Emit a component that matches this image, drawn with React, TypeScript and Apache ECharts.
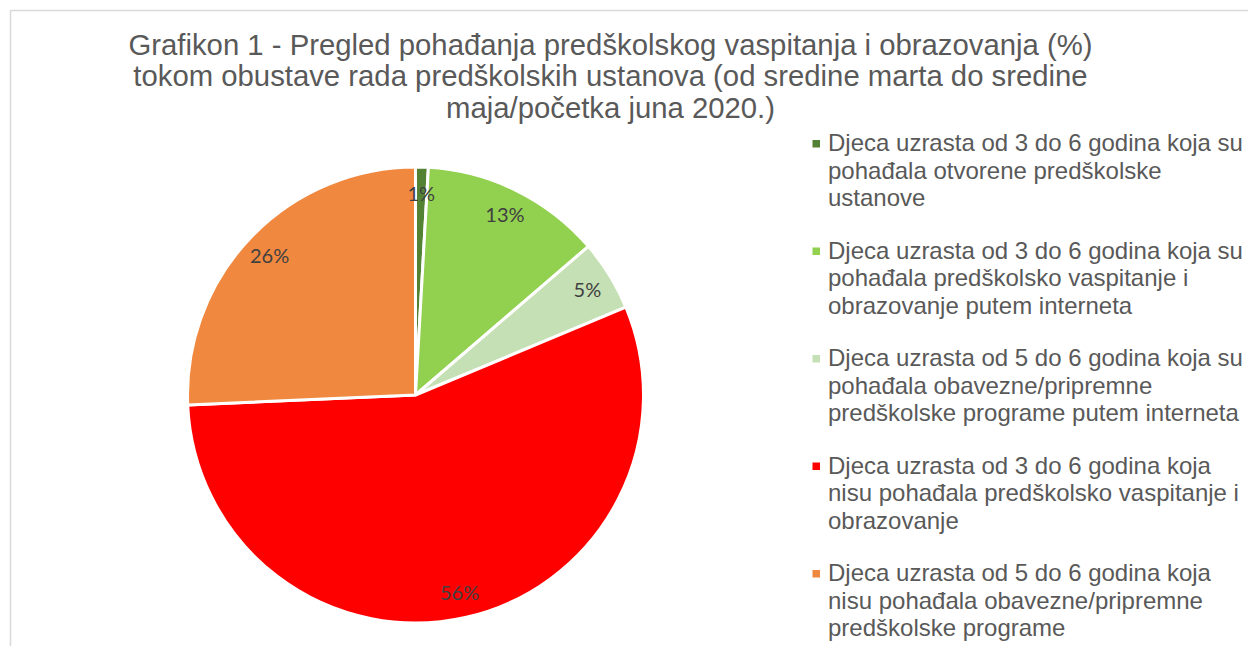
import React, { useEffect, useRef } from 'react';
import * as echarts from 'echarts';

const titleLines = [
  'Grafikon 1 - Pregled pohađanja predškolskog vaspitanja i obrazovanja (%)',
  'tokom obustave rada predškolskih ustanova (od sredine marta do sredine',
  'maja/početka juna 2020.)',
];

const categories = [
  'Djeca uzrasta od 3 do 6 godina koja su pohađala otvorene predškolske ustanove',
  'Djeca uzrasta od 3 do 6 godina koja su pohađala predškolsko vaspitanje i obrazovanje putem interneta',
  'Djeca uzrasta od 5 do 6 godina koja su pohađala obavezne/pripremne predškolske programe putem interneta',
  'Djeca uzrasta od 3 do 6 godina koja nisu pohađala predškolsko vaspitanje i obrazovanje',
  'Djeca uzrasta od 5 do 6 godina koja nisu pohađala obavezne/pripremne predškolske programe',
];

const legendLines = [
  ['Djeca uzrasta od 3 do 6 godina koja su', 'pohađala otvorene predškolske', 'ustanove'],
  ['Djeca uzrasta od 3 do 6 godina koja su', 'pohađala predškolsko vaspitanje i', 'obrazovanje putem interneta'],
  ['Djeca uzrasta od 5 do 6 godina koja su', 'pohađala obavezne/pripremne', 'predškolske programe putem interneta'],
  ['Djeca uzrasta od 3 do 6 godina koja', 'nisu pohađala predškolsko vaspitanje i', 'obrazovanje'],
  ['Djeca uzrasta od 5 do 6 godina koja', 'nisu pohađala obavezne/pripremne', 'predškolske programe'],
];

const values = [0.9, 12.8, 5.0, 55.6, 25.7];

const colors = ['#548235', '#92d050', '#c5e0b4', '#ff0000', '#f0893f'];

export default function App() {
  const ref = useRef<HTMLDivElement>(null);

  useEffect(() => {
    if (!ref.current) return;
    const chart = echarts.init(ref.current, undefined, { renderer: 'svg' });
    const data = categories.map((name, i) => ({
      name,
      value: values[i],
      itemStyle: { color: colors[i] },
    }));
    const labelData = categories.map((name, i) => ({ name, value: values[i] }));

    chart.setOption({
      animation: false,
      backgroundColor: '#ffffff',
      title: {
        text: titleLines.join('\n'),
        left: 610.5,
        top: 28.5,
        textAlign: 'center',
        padding: 0,
        textStyle: {
          fontFamily: 'Liberation Sans, Arial, sans-serif',
          fontSize: 29.3,
          fontWeight: 'normal',
          lineHeight: 31.5,
          color: '#595959',
        },
      },
      legend: {
        orient: 'vertical',
        left: 812,
        top: 129,
        padding: 0,
        itemGap: 25,
        itemWidth: 11,
        itemHeight: 82.5,
        icon: 'path://M0,0h0.01v0.01h-0.01z M11,82.5h0.01v0.01h-0.01z M0.5,11h7.5v7.5h-7.5z',
        itemStyle: { borderWidth: 0 },
        selectedMode: false,
        data: categories,
        formatter: (name: string) => legendLines[categories.indexOf(name)].join('\n'),
        textStyle: {
          fontFamily: 'Liberation Sans, Arial, sans-serif',
          fontSize: 24,
          lineHeight: 27.5,
          color: '#595959',
        },
      },
      graphic: [
        {
          type: 'rect',
          shape: { x: 10.5, y: 10.5, width: 1400, height: 800 },
          style: { fill: 'none', stroke: '#d9d9d9', lineWidth: 1.5 },
          silent: true,
          z: -1,
        },
      ],
      series: [
        {
          type: 'pie',
          center: [415.5, 395],
          radius: [0, 228],
          startAngle: 90,
          clockwise: true,
          silent: true,
          label: { show: false },
          labelLine: { show: false },
          itemStyle: { borderColor: '#ffffff', borderWidth: 3 },
          emphasis: { disabled: true },
          data,
        },
        {
          type: 'pie',
          center: [415.5, 395],
          radius: [170, 228],
          startAngle: 90,
          clockwise: true,
          silent: true,
          legendHoverLink: false,
          itemStyle: { color: 'rgba(0,0,0,0)', borderWidth: 0 },
          emphasis: { disabled: true },
          labelLine: { show: false },
          label: {
            show: true,
            position: 'inside',
            formatter: (p: any) => Math.round(p.value) + '%',
            fontFamily: 'Lato, Open Sans, sans-serif',
            fontSize: 20,
            color: '#404040',
          },
          data: labelData,
        },
      ],
    });
    return () => chart.dispose();
  }, []);

  return (
    <div
      ref={ref}
      style={{ position: 'fixed', left: 0, top: 0, width: 1248, height: 646 }}
    />
  );
}
